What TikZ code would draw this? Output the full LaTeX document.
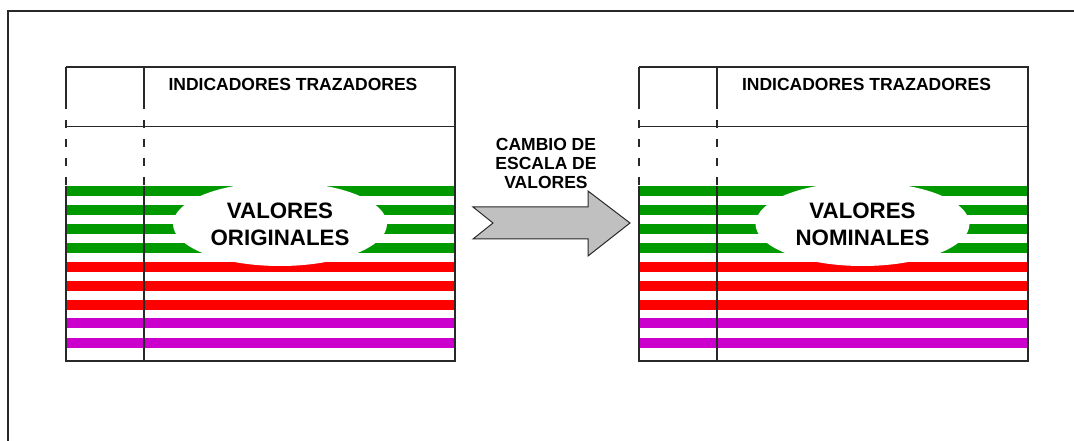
\documentclass[tikz,border=0pt]{standalone}
\usepackage{fontspec}
\setmainfont{Liberation Sans}
\usetikzlibrary{shapes.geometric}
\definecolor{sgreen}{RGB}{0,153,0}
\definecolor{sred}{RGB}{255,0,0}
\definecolor{smag}{RGB}{204,0,204}
\definecolor{lineclr}{RGB}{40,40,40}
\definecolor{arrowgray}{RGB}{192,192,192}
\tikzset{
  gridline/.style={draw=lineclr, line width=1.3bp},
  dashline/.style={draw=lineclr, line width=1.3bp, dash pattern=on 8bp off 11bp},
  headtext/.style={font=\fontsize{17.5bp}{19bp}\selectfont\bfseries, inner sep=0pt},
  bigtext/.style={font=\fontsize{22.3bp}{27bp}\selectfont\bfseries, align=center, inner sep=0pt},
  labeltext/.style={font=\fontsize{17.5bp}{19bp}\selectfont\bfseries, align=center, inner sep=0pt},
  whiteoval/.style={ellipse, fill=white, draw=none, minimum width=214bp, minimum height=84bp, inner sep=0pt},
  bigarrow/.style={fill=arrowgray, draw=lineclr, line width=1bp, line join=miter}
}
\newcommand{\mypanel}[4]{%
  % #1 = left x, #2 = ellipse centre x, #3 = text, #4 = name prefix
  \foreach \yy in {191,210,229,248} {\fill[sgreen] (#1,\yy-5) rectangle (#1+389,\yy+5);}
  \foreach \yy in {267,286,305} {\fill[sred] (#1,\yy-5) rectangle (#1+389,\yy+5);}
  \foreach \yy in {323,343} {\fill[smag] (#1,\yy-5) rectangle (#1+389,\yy+5);}
  \node[whiteoval] (#4oval) at (#2,224) {};
  \node[bigtext] (#4val) at (#2,224.5) {#3};
  % outer lines
  \draw[gridline] (#1,67) -- (#1+389,67) -- (#1+389,361) -- (#1,361) -- (#1,186);
  \draw[gridline] (#1,186) -- (#1,186);
  \draw[gridline] (#1,67) -- (#1,109);
  \draw[dashline] (#1,120) -- (#1,186);
  \draw[gridline] (#1+78,67) -- (#1+78,109);
  \draw[dashline] (#1+78,120) -- (#1+78,186);
  \draw[gridline] (#1+78,186) -- (#1+78,361);
  \draw[gridline] (#1,126.5) -- (#1+389,126.5);
}
\begin{document}
\begin{tikzpicture}[x=1bp,y=-1bp]
\useasboundingbox (0,0) rectangle (1074,441);
\fill[white] (0,0) rectangle (1074,441);
% outer frame (cropped)
\draw[gridline] (1080,11) -- (8,11) -- (8,447);
% panels
\mypanel{66}{280}{VALORES\\ORIGINALES}{L}
\mypanel{639}{862.5}{VALORES\\NOMINALES}{R}
% headers
\node[headtext] (Lhead) at (293,84.5) {INDICADORES TRAZADORES};
\node[headtext] (Rhead) at (866.5,84.5) {INDICADORES TRAZADORES};
% arrow
\draw[bigarrow] (473,207) -- (588,207) -- (588,191) -- (630,223) -- (588,256) -- (588,239) -- (473,239) -- (493,223) -- cycle;
\node[labeltext] (alabel) at (546,163) {CAMBIO DE\\ESCALA DE\\VALORES};
\end{tikzpicture}
\end{document}
